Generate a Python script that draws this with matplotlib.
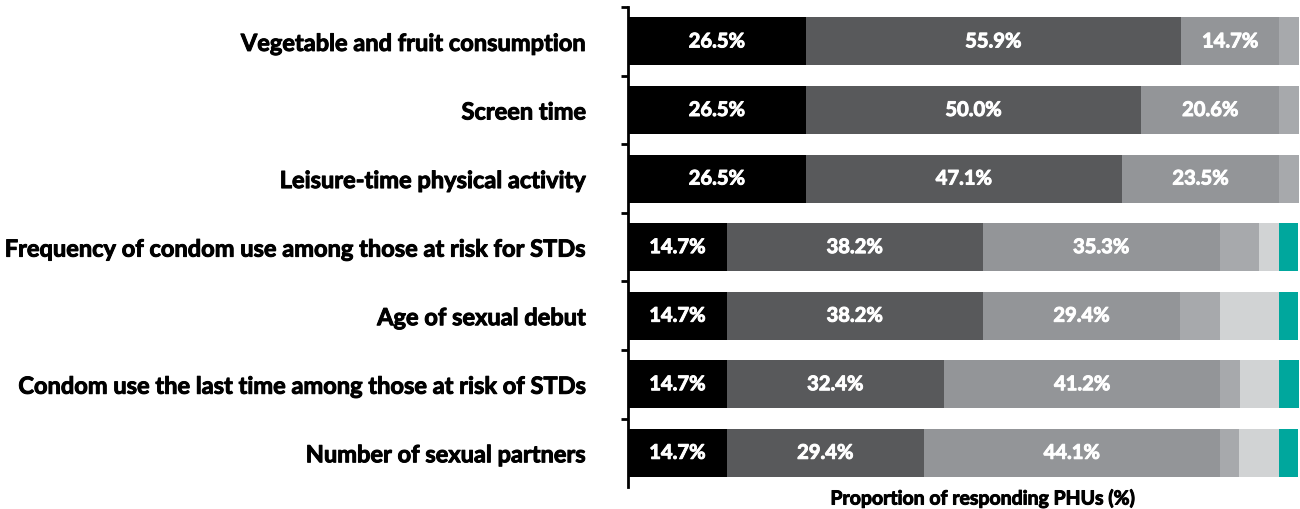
import numpy as np
import matplotlib.pyplot as plt
import matplotlib.patheffects as pe

# categories (top to bottom)
categories = [
    "Vegetable and fruit consumption",
    "Screen time",
    "Leisure-time physical activity",
    "Frequency of condom use among those at risk for STDs",
    "Age of sexual debut",
    "Condom use the last time among those at risk of STDs",
    "Number of sexual partners",
]

# stacked segments, percentages
seg1 = [26.5, 26.5, 26.5, 14.7, 14.7, 14.7, 14.7]
seg2 = [55.9, 50.0, 47.1, 38.2, 38.2, 32.4, 29.4]
seg3 = [14.7, 20.6, 23.5, 35.3, 29.4, 41.2, 44.1]
seg4 = [2.9, 2.9, 2.9, 5.9, 5.9, 2.9, 2.9]
seg5 = [0.0, 0.0, 0.0, 2.9, 8.8, 5.9, 5.9]
seg6 = [0.0, 0.0, 0.0, 2.9, 2.9, 2.9, 2.9]

segments = [seg1, seg2, seg3, seg4, seg5, seg6]
colors = ["#000000", "#58595b", "#939598", "#a7a9ac", "#d1d3d4", "#00a79d"]
labelled = [True, True, True, False, False, False]

plt.rcParams['font.family'] = ['Lato', 'DejaVu Sans']

# thicken the glyphs a bit
heavy_w = [pe.withStroke(linewidth=0.7, foreground='white')]
heavy_k = [pe.withStroke(linewidth=0.7, foreground='black')]

fig = plt.figure(figsize=(13, 5.1), dpi=100)
ax = fig.add_axes([0.483, 0.043, 0.516, 0.941])

y = np.arange(len(categories))
left = np.zeros(len(categories))
for vals, col, lab in zip(segments, colors, labelled):
    vals = np.array(vals)
    bars = ax.barh(y, vals, left=left, height=0.7, color=col, edgecolor='none')
    if lab:
        for b, v in zip(bars, vals):
            ax.text(b.get_x() + b.get_width() / 2, b.get_y() + b.get_height() / 2,
                    f"{v:.1f}%", ha='center', va='center', color='white',
                    fontsize=14.5, fontweight='bold', path_effects=heavy_w)
    left += vals

ax.set_xlim(0, 100)
ax.set_ylim(len(categories) - 0.5, -0.5)

ax.set_yticks(y)
ax.set_yticklabels(categories, fontsize=17, fontweight='bold')
for t in ax.get_yticklabels():
    t.set_path_effects(heavy_k)
ax.tick_params(axis='y', which='major', length=0, pad=30)
ax.set_yticks(np.arange(-0.5, len(categories) - 0.5, 1), minor=True)
ax.tick_params(axis='y', which='minor', length=5, width=2, direction='out')
ax.set_xticks([])

for s in ['top', 'right', 'bottom']:
    ax.spines[s].set_visible(False)
ax.spines['left'].set_linewidth(2)

ax.set_xlabel("Proportion of responding PHUs (%)", fontsize=14, fontweight='bold', labelpad=2)
ax.xaxis.label.set_path_effects(heavy_k)
ax.xaxis.set_label_coords(0.53, -0.005, transform=ax.transAxes)
ax.xaxis.label.set_va('top')

fig.savefig("out.png", dpi=100)
